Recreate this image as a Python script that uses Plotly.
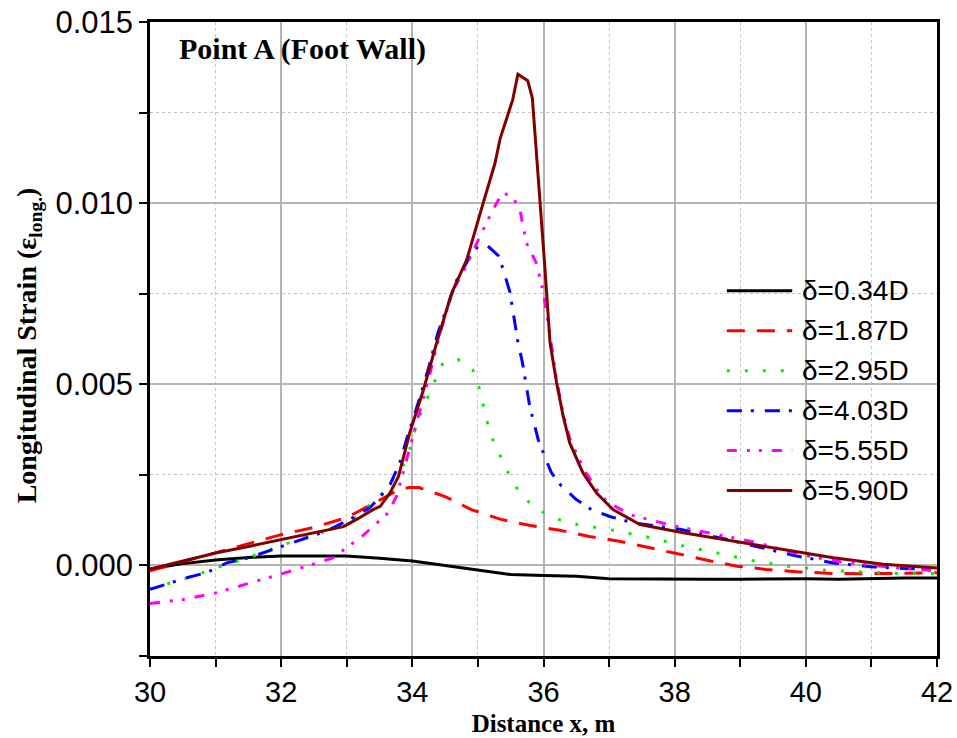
import plotly.graph_objects as go

# Longitudinal strain profiles at point A (foot wall) for increasing fault offsets
x_034 = [30, 30.5, 31, 31.5, 32, 32.5, 33, 33.5, 34, 34.5, 35, 35.5, 36, 36.5, 37, 37.5,
         38, 38.5, 39, 39.5, 40, 40.5, 41, 41.5, 42]
y_034 = [-0.0001, 0.00005, 0.00015, 0.00022, 0.00026, 0.00027, 0.00026, 0.0002, 0.00012, 0.0,
         -0.00012, -0.00025, -0.00028, -0.0003, -0.00037, -0.00038, -0.00037, -0.00038,
         -0.00038, -0.00037, -0.00037, -0.00038, -0.00036, -0.00035, -0.00035]

x_187 = [30, 30.5, 31, 31.5, 32, 32.5, 33, 33.5, 33.8, 33.95, 34.1, 34.5, 34.9, 35.35, 35.8,
         36.25, 36.7, 37.15, 37.6, 38.1, 38.55, 38.95, 39.4, 39.9, 40.4, 40.8, 41.3, 41.7, 42]
y_187 = [-0.00015, 0.0001, 0.00035, 0.0006, 0.00085, 0.00105, 0.00132, 0.0018, 0.0021, 0.00215,
         0.00215, 0.0019, 0.00154, 0.00127, 0.0011, 0.00097, 0.0008, 0.00067, 0.0005, 0.0003,
         0.00012, -0.00002, -0.00011, -0.00018, -0.00022, -0.00023, -0.00022, -0.00022, -0.0002]

x_295 = [30, 30.3, 30.6, 31.07, 31.6, 32.13, 32.7, 33.1, 33.55, 33.89, 33.98, 34.05, 34.14,
         34.27, 34.47, 34.7, 34.92, 35.02, 35.08, 35.15, 35.23, 35.35, 35.46, 35.59, 35.77, 36.0,
         36.26, 36.52, 36.8, 37.06, 37.62, 38.15, 38.69, 39.22, 39.76, 40.3, 40.86, 41.4, 42]
y_295 = [-0.00065, -0.00048, -0.00033, -0.00003, 0.00028, 0.00063, 0.00095, 0.00127, 0.002,
         0.00284, 0.0033, 0.0038, 0.00425, 0.0048, 0.0056, 0.00568, 0.0054, 0.0049, 0.0044,
         0.0039, 0.00345, 0.003, 0.00256, 0.00214, 0.00176, 0.00146, 0.00125, 0.00113, 0.00105,
         0.00097, 0.00077, 0.00053, 0.00033, 0.00012, -0.00003, -0.00013, -0.00018, -0.00022,
         -0.00022]

x_403 = [30, 30.56, 30.86, 31.17, 31.52, 32.03, 32.69, 33.05, 33.35, 33.56, 33.66, 33.81, 33.91,
         34.09, 34.24, 34.39, 34.55, 34.68, 34.88, 35.0, 35.13, 35.31, 35.38, 35.49, 35.61, 35.68,
         35.79, 35.92, 36.0, 36.12, 36.27, 36.5, 36.73, 37.01, 37.36, 38.08, 38.79, 39.25, 39.86,
         40.42, 41.02, 41.53, 42]
y_403 = [-0.00066, -0.00034, -0.0002, 0.00007, 0.00022, 0.00053, 0.00095, 0.00127, 0.00159,
         0.002, 0.00223, 0.00284, 0.00347, 0.00449, 0.0054, 0.00642, 0.0072, 0.00789, 0.00853,
         0.0088, 0.00885, 0.00855, 0.0082, 0.00753, 0.00616, 0.00559, 0.00439, 0.00347, 0.00309,
         0.00256, 0.0022, 0.00182, 0.00154, 0.00135, 0.00118, 0.001, 0.00072, 0.00052, 0.00026,
         0.00007, -0.00004, -0.00009, -0.0001]

x_555 = [30, 30.51, 31.02, 31.42, 31.88, 32.39, 32.79, 33.25, 33.63, 33.76, 33.96, 34.12, 34.27,
         34.42, 34.62, 34.82, 35.03, 35.23, 35.38, 35.54, 35.64, 35.74, 35.89, 35.99, 36.05, 36.1,
         36.2, 36.3, 36.4, 36.6, 36.81, 36.96, 37.32, 37.97, 38.64, 39.25, 39.91, 40.52, 41.23,
         41.74, 42]
y_555 = [-0.00105, -0.00094, -0.00075, -0.00055, -0.0003, -0.00002, 0.00021, 0.00083, 0.00145,
         0.00191, 0.0032, 0.0043, 0.00531, 0.0064, 0.0076, 0.00825, 0.00908, 0.00982, 0.0103,
         0.01014, 0.00982, 0.0089, 0.00835, 0.0076, 0.00695, 0.0063, 0.0051, 0.0042, 0.0035,
         0.0027, 0.0021, 0.00177, 0.0014, 0.0011, 0.00085, 0.00063, 0.0003, 0.0001, -0.00004,
         -0.00011, -0.00015]

x_590 = [30, 30.51, 31.02, 31.52, 32.03, 32.54, 32.95, 33.15, 33.4, 33.51, 33.66, 33.79, 33.89,
         33.96, 34.17, 34.37, 34.6, 34.83, 35.08, 35.26, 35.34, 35.41, 35.46, 35.53, 35.61, 35.76,
         35.83, 35.89, 35.94, 36.02, 36.1, 36.2, 36.3, 36.4, 36.6, 36.81, 37.06, 37.32, 37.47,
         38.13, 38.89, 39.66, 40.42, 41.18, 42]
y_590 = [-0.0001, 0.00012, 0.00035, 0.00053, 0.00072, 0.0009, 0.00107, 0.00127, 0.00154, 0.00163,
         0.002, 0.00246, 0.0032, 0.00366, 0.00485, 0.00614, 0.00752, 0.00844, 0.01, 0.0111,
         0.01179, 0.0122, 0.01243, 0.01285, 0.01356, 0.01338, 0.0129, 0.01147, 0.01009, 0.00825,
         0.00614, 0.00504, 0.00412, 0.00338, 0.00256, 0.002, 0.00154, 0.00127, 0.00113, 0.0009,
         0.00067, 0.00042, 0.00021, 0.00003, -0.00007]

names = ["δ=0.34D", "δ=1.87D", "δ=2.95D", "δ=4.03D", "δ=5.55D", "δ=5.90D"]
xs = [x_034, x_187, x_295, x_403, x_555, x_590]
ys = [y_034, y_187, y_295, y_403, y_555, y_590]
colors = ["#000000", "#ff0000", "#00ee00", "#0000ff", "#ff00ff", "#800000"]
dashes = ["solid", "18px,12px", "3px,15px", "15px,9px,3px,11px",
          "10px,10px,3px,9px,3px,10px", "solid"]

x_ticks = [30, 32, 34, 36, 38, 40, 42]
y_ticks = [0.0, 0.005, 0.010, 0.015]

SANS = "Liberation Sans, Arial"
SERIF = "Liberation Serif, Times New Roman"

fig = go.Figure()
for name, x, y, c, d in zip(names, xs, ys, colors, dashes):
    fig.add_trace(go.Scatter(x=x, y=y, mode="lines", name=name,
                             line=dict(color=c, width=3, dash=d), showlegend=False))

# Hand-drawn legend with long line samples
leg_x0, leg_x1, leg_tx = 0.733, 0.816, 0.826
leg_top, leg_step = 0.576, 0.063
for i, (name, c, d) in enumerate(zip(names, colors, dashes)):
    yy = leg_top - i * leg_step
    fig.add_shape(type="line", xref="paper", yref="paper", x0=leg_x0, x1=leg_x1, y0=yy, y1=yy,
                  line=dict(color=c, width=3, dash=d))
    fig.add_annotation(xref="paper", yref="paper", x=leg_tx, y=yy, text=name, showarrow=False,
                       xanchor="left", yanchor="middle",
                       font=dict(family=SANS, size=28, color="black"))

fig.add_annotation(xref="paper", yref="paper", x=0.034, y=0.958, text="<b>Point A (Foot Wall)</b>",
                   showarrow=False, xanchor="left", yanchor="middle",
                   font=dict(family=SERIF, size=30, color="black"))

# Vertical axis title, placed to the left of the tick labels
fig.add_annotation(xref="paper", yref="paper", x=-0.155, y=0.49, textangle=-90,
                   text="<b>Longitudinal Strain (ε<sub>long.</sub>)</b>", showarrow=False,
                   xanchor="center", yanchor="middle",
                   font=dict(family=SERIF, size=28, color="black"))

axis_common = dict(
    showline=True, linecolor="black", linewidth=2.5, mirror=True,
    ticks="outside", ticklen=8, tickwidth=2, tickcolor="black",
    showgrid=True, gridcolor="#b4b4b4", gridwidth=1.5,
    zeroline=False, automargin=False,
)

fig.update_xaxes(
    range=[30, 42], tickvals=x_ticks, ticktext=[str(v) for v in x_ticks],
    tickfont=dict(family=SANS, size=29, color="black"),
    minor=dict(dtick=1, ticks="outside", ticklen=8, tickwidth=2, tickcolor="black",
               showgrid=True, gridcolor="#c4c4c4", griddash="dot", gridwidth=1),
    title=dict(text="<b>Distance x, m</b>", standoff=8,
               font=dict(family=SERIF, size=25, color="black")),
    **axis_common,
)
fig.update_yaxes(
    range=[-0.0025, 0.015], tickvals=y_ticks, ticktext=[f"{v:.3f}" for v in y_ticks],
    tickfont=dict(family=SANS, size=31, color="black"),
    minor=dict(dtick=0.0025, tick0=0, ticks="outside", ticklen=8, tickwidth=2, tickcolor="black",
               showgrid=True, gridcolor="#c4c4c4", griddash="dot", gridwidth=1),
    **axis_common,
)

fig.update_layout(
    width=957, height=738,
    margin=dict(l=150, r=20, t=22, b=82),
    paper_bgcolor="white", plot_bgcolor="white",
)

fig.write_html("out.html")
